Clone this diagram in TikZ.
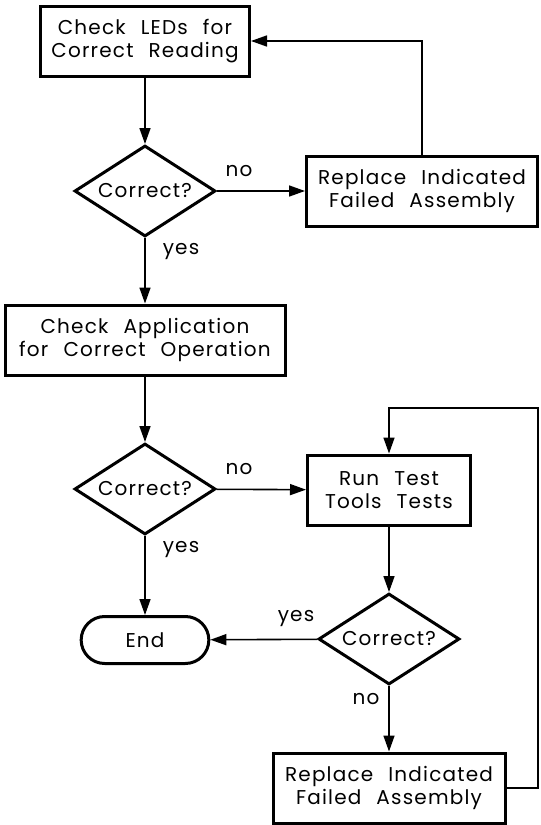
\documentclass[tikz,border=0pt]{standalone}
\usepackage{fontspec}
\setmainfont{Poppins}[WordSpace=2.3,LetterSpace=6]
\usetikzlibrary{shapes.geometric,shapes.misc,arrows.meta}

\begin{document}
\begin{tikzpicture}[x=0.5pt,y=-0.5pt,
    font=\fontsize{10}{11.8}\selectfont,
    >={Triangle[length=8pt,width=5.5pt]},
    box/.style={draw,line width=1.5pt,align=center,minimum height=35pt,inner sep=0pt},
    ask/.style={draw,diamond,aspect=1.55,line width=1.5pt,minimum width=70.5pt,minimum height=45.5pt,inner sep=0pt},
    finish/.style={draw,rounded rectangle,line width=1.5pt,minimum width=70.5pt,minimum height=23.5pt},
    lbl/.style={inner sep=1pt}]
      \useasboundingbox (0,0) rectangle (541,825);
      \draw
        (145,41) node[box,minimum width=104.5pt] (leds){Check LEDs for\\Correct Reading}
        (145,191) node[ask] (ask1){Correct?}
        (422,191) node[box,minimum width=115.5pt] (repl1){Replace Indicated\\Failed Assembly}
        (145,340) node[box,minimum width=140pt] (appl){Check Application\\for Correct Operation}
        (145,489) node[ask] (ask2){Correct?}
        (389,490) node[box,minimum width=81.5pt] (tools){Run Test\\Tools Tests}
        (145,640) node[finish] (end){End}
        (389,639) node[ask] (ask3){Correct?}
        (389,788) node[box,minimum width=116pt] (repl2){Replace Indicated\\Failed Assembly};
      \draw
        (239,171) node[lbl] (no1){no}
        (181,252) node[lbl] (yes1){yes}
        (239,469) node[lbl] (no2){no}
        (181,550) node[lbl] (yes2){yes}
        (296,619) node[lbl] (yes3){yes}
        (366,699) node[lbl] (no3){no};
      \coordinate (back) at (538,408);
      \begin{scope}[->,line width=0.8pt]
        \draw (leds) to (ask1);
        \draw (ask1) to (repl1);
        \draw (repl1.north) |- (leds.east);
        \draw (ask1) to (appl);
        \draw (appl) to (ask2);
        \draw (ask2) to (tools);
        \draw (ask2) to (end);
        \draw (tools) to (ask3);
        \draw (ask3) to (end);
        \draw (ask3) to (repl2);
        \draw (repl2.east) -| (back) -| (tools.north);
      \end{scope}
    \end{tikzpicture}
\end{document}
